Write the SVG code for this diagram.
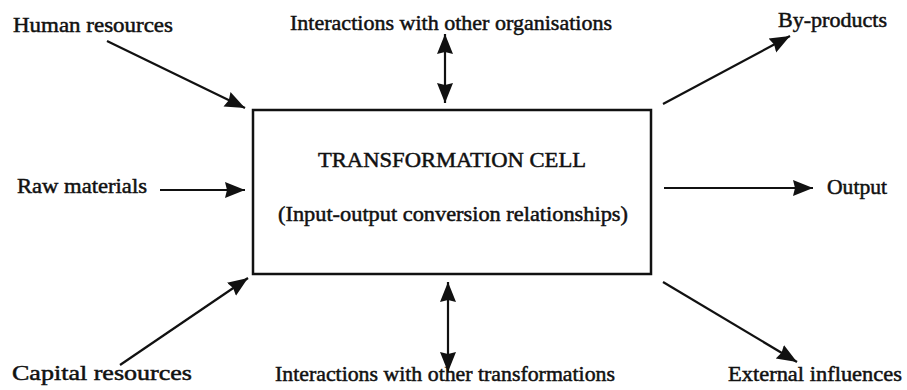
<svg xmlns="http://www.w3.org/2000/svg" width="907" height="390" viewBox="0 0 907 390">
  <style>
    text { font-family: "Liberation Serif", "Times New Roman", serif; font-size: 22px; fill: #111; stroke: #111; stroke-width: 0.5; }
    .conn { stroke: #111; stroke-width: 2.2; fill: none; }
    .box { stroke: #111; stroke-width: 2.5; fill: #fff; }
  </style>
  <defs>
    <marker id="head" markerUnits="userSpaceOnUse" markerWidth="24" markerHeight="20" refX="20" refY="10" orient="auto-start-reverse">
      <path d="M0,2 L20,10 L0,18 L2,10 z" fill="#111"/>
    </marker>
  </defs>
  <rect width="907" height="390" fill="#fff"/>

  <!-- central cell -->
  <g id="cell">
    <rect class="box" x="253" y="110" width="398" height="164"/>
    <text x="452" y="167" text-anchor="middle" textLength="268" lengthAdjust="spacingAndGlyphs">TRANSFORMATION CELL</text>
    <text x="453" y="221" text-anchor="middle" textLength="350" lengthAdjust="spacingAndGlyphs">(Input-output conversion relationships)</text>
  </g>

  <!-- inputs -->
  <g id="human-resources"><text x="13" y="32" textLength="160" lengthAdjust="spacingAndGlyphs">Human resources</text></g>
  <g id="raw-materials"><text x="17" y="193" textLength="130" lengthAdjust="spacingAndGlyphs">Raw materials</text></g>
  <g id="capital-resources"><text x="12" y="380" textLength="180" lengthAdjust="spacingAndGlyphs">Capital resources</text></g>

  <!-- interactions -->
  <g id="other-organisations"><text x="290" y="30" textLength="322" lengthAdjust="spacingAndGlyphs">Interactions with other organisations</text></g>
  <g id="other-transformations"><text x="275" y="381" textLength="340" lengthAdjust="spacingAndGlyphs">Interactions with other transformations</text></g>

  <!-- outputs -->
  <g id="by-products"><text x="778" y="27" textLength="109" lengthAdjust="spacingAndGlyphs">By-products</text></g>
  <g id="output"><text x="827" y="194" textLength="60" lengthAdjust="spacingAndGlyphs">Output</text></g>
  <g id="external-influences"><text x="728" y="381" textLength="174" lengthAdjust="spacingAndGlyphs">External influences</text></g>

  <!-- connectors -->
  <g id="connectors">
    <line class="conn" x1="107" y1="41" x2="245" y2="108" marker-end="url(#head)"/>
    <line class="conn" x1="160" y1="190" x2="245" y2="190" marker-end="url(#head)"/>
    <line class="conn" x1="120" y1="365" x2="248" y2="278" marker-end="url(#head)"/>
    <line class="conn" x1="445" y1="34" x2="445" y2="103" marker-start="url(#head)" marker-end="url(#head)"/>
    <line class="conn" x1="448" y1="282" x2="448" y2="372" marker-start="url(#head)" marker-end="url(#head)"/>
    <line class="conn" x1="663" y1="104" x2="790" y2="36" marker-end="url(#head)"/>
    <line class="conn" x1="664" y1="188" x2="813" y2="188" marker-end="url(#head)"/>
    <line class="conn" x1="663" y1="282" x2="797" y2="362" marker-end="url(#head)"/>
  </g>
</svg>
